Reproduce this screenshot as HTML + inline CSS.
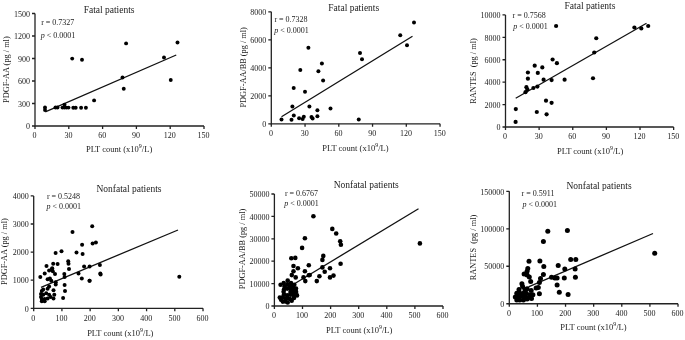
<!DOCTYPE html>
<html><head><meta charset="utf-8"><style>
html,body{margin:0;padding:0;background:#fff;width:685px;height:340px;overflow:hidden}
svg{display:block;filter:grayscale(1) blur(0.3px)}
text{font-family:"Liberation Serif", serif;fill:#222}
</style></head><body>
<svg width="685" height="340" viewBox="0 0 685 340">
<rect width="685" height="340" fill="#fff"/>
<path d="M35 13.5V126H204" fill="none" stroke="#222" stroke-width="1.3"/>
<text x="30" y="129.2" text-anchor="end" font-size="8.0">0</text>
<text x="30" y="106.7" text-anchor="end" font-size="8.0">300</text>
<text x="30" y="84.2" text-anchor="end" font-size="8.0">600</text>
<text x="30" y="61.7" text-anchor="end" font-size="8.0">900</text>
<text x="30" y="39.2" text-anchor="end" font-size="8.0">1200</text>
<text x="30" y="16.7" text-anchor="end" font-size="8.0">1500</text>
<text x="34.6" y="138.3" text-anchor="middle" font-size="8.0">0</text>
<text x="68.4" y="138.3" text-anchor="middle" font-size="8.0">30</text>
<text x="102.2" y="138.3" text-anchor="middle" font-size="8.0">60</text>
<text x="136" y="138.3" text-anchor="middle" font-size="8.0">90</text>
<text x="169.8" y="138.3" text-anchor="middle" font-size="8.0">120</text>
<text x="203.6" y="138.3" text-anchor="middle" font-size="8.0">150</text>
<path d="M32 126H35 M32 103.5H35 M32 81H35 M32 58.5H35 M32 36H35 M32 13.5H35 M35 126V129 M68.8 126V129 M102.6 126V129 M136.4 126V129 M170.2 126V129 M204 126V129" fill="none" stroke="#222" stroke-width="1.3"/>
<text x="109.1" y="13" text-anchor="middle" font-size="9.5">Fatal patients</text>
<text x="41.2" y="25" font-size="8.0">r = 0.7327</text>
<text x="40.7" y="37.8" font-size="8.0"><tspan font-style="italic">p</tspan> &lt; 0.0001</text>
<text transform="translate(9.4 69.65) rotate(-90)" text-anchor="middle" font-size="8.3" xml:space="preserve">PDGF-AA (pg / ml)</text>
<text x="119.1" y="152.4" text-anchor="middle" font-size="8.5">PLT count (x10<tspan font-size="6" dy="-4">9</tspan><tspan dy="4">/L)</tspan></text>
<line x1="45.3" y1="111.8" x2="176.25" y2="55" stroke="#111" stroke-width="1.3"/>
<g fill="#000"><circle cx="72.2" cy="58.6" r="1.95"/><circle cx="82" cy="59.7" r="1.95"/><circle cx="126.1" cy="43.4" r="1.95"/><circle cx="177.5" cy="42.5" r="1.95"/><circle cx="164" cy="57.5" r="1.95"/><circle cx="170.75" cy="80" r="1.95"/><circle cx="122.5" cy="77.5" r="1.95"/><circle cx="123.75" cy="88.75" r="1.95"/><circle cx="94.1" cy="100.4" r="1.95"/><circle cx="45" cy="107.5" r="1.95"/><circle cx="45" cy="110" r="1.95"/><circle cx="55.5" cy="107.5" r="1.95"/><circle cx="57.5" cy="107.5" r="1.95"/><circle cx="62.5" cy="107.6" r="1.95"/><circle cx="64.5" cy="107.6" r="1.95"/><circle cx="66.5" cy="107.6" r="1.95"/><circle cx="68.5" cy="107.6" r="1.95"/><circle cx="64.5" cy="104.6" r="1.95"/><circle cx="73.3" cy="107.8" r="1.95"/><circle cx="75.7" cy="107.8" r="1.95"/><circle cx="81.1" cy="107.8" r="1.95"/><circle cx="85.9" cy="107.8" r="1.95"/></g>
<path d="M271.3 11.8V123.8H440.05" fill="none" stroke="#222" stroke-width="1.3"/>
<text x="266.3" y="127" text-anchor="end" font-size="8.0">0</text>
<text x="266.3" y="99" text-anchor="end" font-size="8.0">2000</text>
<text x="266.3" y="71" text-anchor="end" font-size="8.0">4000</text>
<text x="266.3" y="43" text-anchor="end" font-size="8.0">6000</text>
<text x="266.3" y="15" text-anchor="end" font-size="8.0">8000</text>
<text x="270.9" y="136.1" text-anchor="middle" font-size="8.0">0</text>
<text x="304.65" y="136.1" text-anchor="middle" font-size="8.0">30</text>
<text x="338.4" y="136.1" text-anchor="middle" font-size="8.0">60</text>
<text x="372.15" y="136.1" text-anchor="middle" font-size="8.0">90</text>
<text x="405.9" y="136.1" text-anchor="middle" font-size="8.0">120</text>
<text x="439.65" y="136.1" text-anchor="middle" font-size="8.0">150</text>
<path d="M268.3 123.8H271.3 M268.3 95.8H271.3 M268.3 67.8H271.3 M268.3 39.8H271.3 M268.3 11.8H271.3 M271.3 123.8V126.8 M305.05 123.8V126.8 M338.8 123.8V126.8 M372.55 123.8V126.8 M406.3 123.8V126.8 M440.05 123.8V126.8" fill="none" stroke="#222" stroke-width="1.3"/>
<text x="353.75" y="10.5" text-anchor="middle" font-size="9.5">Fatal patients</text>
<text x="274.4" y="21.5" font-size="8.0">r = 0.7328</text>
<text x="274.2" y="33.4" font-size="8.0"><tspan font-style="italic">p</tspan> &lt; 0.0001</text>
<text transform="translate(246.1 67.35) rotate(-90)" text-anchor="middle" font-size="8.3" xml:space="preserve">PDGF-AA/BB (pg / ml)</text>
<text x="355.45" y="150.5" text-anchor="middle" font-size="8.5">PLT count (x10<tspan font-size="6" dy="-4">9</tspan><tspan dy="4">/L)</tspan></text>
<line x1="281.5" y1="116.8" x2="412.5" y2="36.3" stroke="#111" stroke-width="1.3"/>
<g fill="#000"><circle cx="308.4" cy="47.8" r="2.0"/><circle cx="321.9" cy="63.5" r="2.0"/><circle cx="300.3" cy="69.9" r="2.0"/><circle cx="318.4" cy="71.3" r="2.0"/><circle cx="323.1" cy="80.4" r="2.0"/><circle cx="293.7" cy="88" r="2.0"/><circle cx="414" cy="22.5" r="2.0"/><circle cx="400.25" cy="35.25" r="2.0"/><circle cx="407" cy="45.25" r="2.0"/><circle cx="360" cy="53" r="2.0"/><circle cx="362" cy="59.25" r="2.0"/><circle cx="358.75" cy="119.5" r="2.0"/><circle cx="305" cy="91.7" r="2.0"/><circle cx="292.4" cy="106.5" r="2.0"/><circle cx="309.4" cy="106.4" r="2.0"/><circle cx="330.5" cy="108.5" r="2.0"/><circle cx="317.4" cy="110.3" r="2.0"/><circle cx="293.8" cy="115.4" r="2.0"/><circle cx="317.4" cy="116.2" r="2.0"/><circle cx="281.5" cy="119.5" r="2.0"/><circle cx="291.5" cy="119.7" r="2.0"/><circle cx="299.1" cy="118.2" r="2.0"/><circle cx="302.6" cy="119.1" r="2.0"/><circle cx="303.8" cy="116.8" r="2.0"/><circle cx="311.5" cy="117" r="2.0"/><circle cx="312.6" cy="118.5" r="2.0"/></g>
<path d="M505.5 14.9V127H673.65" fill="none" stroke="#222" stroke-width="1.3"/>
<text x="500.5" y="130.2" text-anchor="end" font-size="8.0">0</text>
<text x="500.5" y="107.78" text-anchor="end" font-size="8.0">2000</text>
<text x="500.5" y="85.36" text-anchor="end" font-size="8.0">4000</text>
<text x="500.5" y="62.94" text-anchor="end" font-size="8.0">6000</text>
<text x="500.5" y="40.52" text-anchor="end" font-size="8.0">8000</text>
<text x="500.5" y="18.1" text-anchor="end" font-size="8.0">10000</text>
<text x="505.1" y="139.3" text-anchor="middle" font-size="8.0">0</text>
<text x="538.73" y="139.3" text-anchor="middle" font-size="8.0">30</text>
<text x="572.36" y="139.3" text-anchor="middle" font-size="8.0">60</text>
<text x="605.99" y="139.3" text-anchor="middle" font-size="8.0">90</text>
<text x="639.62" y="139.3" text-anchor="middle" font-size="8.0">120</text>
<text x="673.25" y="139.3" text-anchor="middle" font-size="8.0">150</text>
<path d="M502.5 127H505.5 M502.5 104.58H505.5 M502.5 82.16H505.5 M502.5 59.74H505.5 M502.5 37.32H505.5 M502.5 14.9H505.5 M505.5 127V130 M539.13 127V130 M572.76 127V130 M606.39 127V130 M640.02 127V130 M673.65 127V130" fill="none" stroke="#222" stroke-width="1.3"/>
<text x="590" y="9.1" text-anchor="middle" font-size="9.5">Fatal patients</text>
<text x="512.5" y="18.4" font-size="8.0">r = 0.7568</text>
<text x="513.3" y="28.9" font-size="8.0"><tspan font-style="italic">p</tspan> &lt; 0.0001</text>
<text transform="translate(476.3 71) rotate(-90)" text-anchor="middle" font-size="8.3" xml:space="preserve">RANTES  (pg / ml)</text>
<text x="590.15" y="153.8" text-anchor="middle" font-size="8.5">PLT count (x10<tspan font-size="6" dy="-4">9</tspan><tspan dy="4">/L)</tspan></text>
<line x1="515.7" y1="98.2" x2="646.5" y2="23.3" stroke="#111" stroke-width="1.3"/>
<g fill="#000"><circle cx="556.1" cy="26" r="2.1"/><circle cx="634.4" cy="27.5" r="2.1"/><circle cx="641.3" cy="28.4" r="2.1"/><circle cx="648.2" cy="26" r="2.1"/><circle cx="596.25" cy="38.25" r="2.1"/><circle cx="594.25" cy="52.5" r="2.1"/><circle cx="593" cy="78.25" r="2.1"/><circle cx="552.6" cy="59.5" r="2.1"/><circle cx="556.9" cy="63.2" r="2.1"/><circle cx="534.7" cy="65.7" r="2.1"/><circle cx="542.3" cy="67.4" r="2.1"/><circle cx="527.9" cy="72.5" r="2.1"/><circle cx="537.8" cy="72.9" r="2.1"/><circle cx="527.9" cy="78.7" r="2.1"/><circle cx="543.6" cy="79.7" r="2.1"/><circle cx="551.6" cy="80.1" r="2.1"/><circle cx="564.6" cy="79.7" r="2.1"/><circle cx="526.4" cy="87.2" r="2.1"/><circle cx="527.4" cy="89.5" r="2.1"/><circle cx="525.5" cy="92.2" r="2.1"/><circle cx="533.4" cy="88" r="2.1"/><circle cx="537.4" cy="86.6" r="2.1"/><circle cx="546" cy="100.7" r="2.1"/><circle cx="551.6" cy="102.8" r="2.1"/><circle cx="515.8" cy="109.1" r="2.1"/><circle cx="536.8" cy="112" r="2.1"/><circle cx="546.6" cy="114.3" r="2.1"/><circle cx="515.6" cy="121.9" r="2.1"/></g>
<path d="M33.7 195.9V308.3H203.02" fill="none" stroke="#222" stroke-width="1.3"/>
<text x="28.7" y="311.5" text-anchor="end" font-size="8.0">0</text>
<text x="28.7" y="283.4" text-anchor="end" font-size="8.0">1000</text>
<text x="28.7" y="255.3" text-anchor="end" font-size="8.0">2000</text>
<text x="28.7" y="227.2" text-anchor="end" font-size="8.0">3000</text>
<text x="28.7" y="199.1" text-anchor="end" font-size="8.0">4000</text>
<text x="33.3" y="320.6" text-anchor="middle" font-size="8.0">0</text>
<text x="61.52" y="320.6" text-anchor="middle" font-size="8.0">100</text>
<text x="89.74" y="320.6" text-anchor="middle" font-size="8.0">200</text>
<text x="117.96" y="320.6" text-anchor="middle" font-size="8.0">300</text>
<text x="146.18" y="320.6" text-anchor="middle" font-size="8.0">400</text>
<text x="174.4" y="320.6" text-anchor="middle" font-size="8.0">500</text>
<text x="202.62" y="320.6" text-anchor="middle" font-size="8.0">600</text>
<path d="M30.7 308.3H33.7 M30.7 280.2H33.7 M30.7 252.1H33.7 M30.7 224H33.7 M30.7 195.9H33.7 M33.7 308.3V311.3 M61.92 308.3V311.3 M90.14 308.3V311.3 M118.36 308.3V311.3 M146.58 308.3V311.3 M174.8 308.3V311.3 M203.02 308.3V311.3" fill="none" stroke="#222" stroke-width="1.3"/>
<text x="129" y="192" text-anchor="middle" font-size="9.5">Nonfatal patients</text>
<text x="46.9" y="198.6" font-size="8.0">r = 0.5248</text>
<text x="46.4" y="208.5" font-size="8.0"><tspan font-style="italic">p</tspan> &lt; 0.0001</text>
<text transform="translate(7.4 251.6) rotate(-90)" text-anchor="middle" font-size="8.3" xml:space="preserve">PDGF-AA (pg / ml)</text>
<text x="120.3" y="335.9" text-anchor="middle" font-size="8.5">PLT count (x10<tspan font-size="6" dy="-4">9</tspan><tspan dy="4">/L)</tspan></text>
<line x1="41" y1="287.3" x2="178" y2="230" stroke="#111" stroke-width="1.3"/>
<g fill="#000"><circle cx="92.2" cy="226.3" r="2.0"/><circle cx="72.5" cy="232.1" r="2.0"/><circle cx="82.1" cy="244.7" r="2.0"/><circle cx="92.6" cy="243.5" r="2.0"/><circle cx="95.9" cy="242.5" r="2.0"/><circle cx="55.6" cy="253.1" r="2.0"/><circle cx="61.5" cy="251.3" r="2.0"/><circle cx="76.5" cy="252.6" r="2.0"/><circle cx="82.6" cy="254.1" r="2.0"/><circle cx="53.2" cy="263.7" r="2.0"/><circle cx="57.6" cy="264.1" r="2.0"/><circle cx="68.2" cy="261.2" r="2.0"/><circle cx="68.5" cy="263.8" r="2.0"/><circle cx="52.2" cy="268.2" r="2.0"/><circle cx="69" cy="269" r="2.0"/><circle cx="84.1" cy="266.5" r="2.0"/><circle cx="89.6" cy="266.5" r="2.0"/><circle cx="99.9" cy="265" r="2.0"/><circle cx="100.3" cy="273.4" r="2.0"/><circle cx="100.6" cy="274.4" r="2.0"/><circle cx="55" cy="274.1" r="2.0"/><circle cx="64.3" cy="274.1" r="2.0"/><circle cx="64.6" cy="277.1" r="2.0"/><circle cx="78.5" cy="273.4" r="2.0"/><circle cx="81.8" cy="278.5" r="2.0"/><circle cx="89.6" cy="280.7" r="2.0"/><circle cx="55.7" cy="282.2" r="2.0"/><circle cx="55.7" cy="284.4" r="2.0"/><circle cx="64.6" cy="284.9" r="2.0"/><circle cx="65" cy="291" r="2.0"/><circle cx="63.1" cy="297.9" r="2.0"/><circle cx="179.3" cy="276.8" r="2.0"/><circle cx="40.3" cy="277" r="2.0"/><circle cx="44.7" cy="273.4" r="2.0"/><circle cx="46.5" cy="266" r="2.0"/><circle cx="49.1" cy="270.4" r="2.0"/><circle cx="52" cy="269" r="2.0"/><circle cx="52.8" cy="271.2" r="2.0"/><circle cx="47.6" cy="279.3" r="2.0"/><circle cx="49.9" cy="278.5" r="2.0"/><circle cx="51.3" cy="280.7" r="2.0"/><circle cx="49.1" cy="286.6" r="2.0"/><circle cx="47.6" cy="288.8" r="2.0"/><circle cx="53.5" cy="290.3" r="2.0"/><circle cx="43.2" cy="289.6" r="2.0"/><circle cx="41.8" cy="291" r="2.0"/><circle cx="41" cy="294" r="2.0"/><circle cx="43.2" cy="294.7" r="2.0"/><circle cx="46.2" cy="293.2" r="2.0"/><circle cx="49.1" cy="294.7" r="2.0"/><circle cx="50.6" cy="296.9" r="2.0"/><circle cx="54.3" cy="294.7" r="2.0"/><circle cx="53.5" cy="298.4" r="2.0"/><circle cx="41.8" cy="299.1" r="2.0"/><circle cx="44.7" cy="299.1" r="2.0"/><circle cx="41.8" cy="301.3" r="2.0"/><circle cx="44.7" cy="301.3" r="2.0"/><circle cx="47.6" cy="298.4" r="2.0"/><circle cx="41" cy="296.9" r="2.0"/><circle cx="89.5" cy="280.75" r="2.0"/></g>
<path d="M274.4 194V306H443" fill="none" stroke="#222" stroke-width="1.3"/>
<text x="269.4" y="309.2" text-anchor="end" font-size="8.0">0</text>
<text x="269.4" y="286.8" text-anchor="end" font-size="8.0">10000</text>
<text x="269.4" y="264.4" text-anchor="end" font-size="8.0">20000</text>
<text x="269.4" y="242" text-anchor="end" font-size="8.0">30000</text>
<text x="269.4" y="219.6" text-anchor="end" font-size="8.0">40000</text>
<text x="269.4" y="197.2" text-anchor="end" font-size="8.0">50000</text>
<text x="274" y="318.3" text-anchor="middle" font-size="8.0">0</text>
<text x="302.1" y="318.3" text-anchor="middle" font-size="8.0">100</text>
<text x="330.2" y="318.3" text-anchor="middle" font-size="8.0">200</text>
<text x="358.3" y="318.3" text-anchor="middle" font-size="8.0">300</text>
<text x="386.4" y="318.3" text-anchor="middle" font-size="8.0">400</text>
<text x="414.5" y="318.3" text-anchor="middle" font-size="8.0">500</text>
<text x="442.6" y="318.3" text-anchor="middle" font-size="8.0">600</text>
<path d="M271.4 306H274.4 M271.4 283.6H274.4 M271.4 261.2H274.4 M271.4 238.8H274.4 M271.4 216.4H274.4 M271.4 194H274.4 M274.4 306V309 M302.5 306V309 M330.6 306V309 M358.7 306V309 M386.8 306V309 M414.9 306V309 M443 306V309" fill="none" stroke="#222" stroke-width="1.3"/>
<text x="366.25" y="187.5" text-anchor="middle" font-size="9.5">Nonfatal patients</text>
<text x="284.9" y="195.8" font-size="8.0">r = 0.6767</text>
<text x="284.3" y="206.1" font-size="8.0"><tspan font-style="italic">p</tspan> &lt; 0.0001</text>
<text transform="translate(245 249) rotate(-90)" text-anchor="middle" font-size="8.3" xml:space="preserve">PDGF-AA/BB (pg / ml)</text>
<text x="359.25" y="333.3" text-anchor="middle" font-size="8.5">PLT count (x10<tspan font-size="6" dy="-4">9</tspan><tspan dy="4">/L)</tspan></text>
<line x1="292" y1="285.2" x2="418.5" y2="208.7" stroke="#111" stroke-width="1.3"/>
<g fill="#000"><circle cx="313.4" cy="216.2" r="2.3"/><circle cx="304.9" cy="238.2" r="2.3"/><circle cx="302.1" cy="247.9" r="2.3"/><circle cx="291.3" cy="258.2" r="2.3"/><circle cx="295.3" cy="257.9" r="2.3"/><circle cx="332.3" cy="228.9" r="2.3"/><circle cx="336.2" cy="233.5" r="2.3"/><circle cx="340.2" cy="241.2" r="2.3"/><circle cx="340.9" cy="244.8" r="2.3"/><circle cx="323.3" cy="255.9" r="2.3"/><circle cx="322.4" cy="259.9" r="2.3"/><circle cx="340.6" cy="263.8" r="2.3"/><circle cx="419.9" cy="243.4" r="2.3"/><circle cx="293.5" cy="266" r="2.3"/><circle cx="297.9" cy="268.2" r="2.3"/><circle cx="308.8" cy="265.2" r="2.3"/><circle cx="293.5" cy="271.2" r="2.3"/><circle cx="291.8" cy="275.1" r="2.3"/><circle cx="295.7" cy="277.4" r="2.3"/><circle cx="304.9" cy="271.2" r="2.3"/><circle cx="308.8" cy="275.3" r="2.3"/><circle cx="309.7" cy="275" r="2.3"/><circle cx="303.5" cy="277.4" r="2.3"/><circle cx="305.3" cy="281.1" r="2.3"/><circle cx="316.8" cy="281.1" r="2.3"/><circle cx="319.4" cy="276.2" r="2.3"/><circle cx="322.4" cy="267.4" r="2.3"/><circle cx="324.7" cy="271.8" r="2.3"/><circle cx="330" cy="268.2" r="2.3"/><circle cx="330" cy="277.4" r="2.3"/><circle cx="333.5" cy="275.6" r="2.3"/><circle cx="287.7" cy="280.6" r="2.3"/><circle cx="283.7" cy="283.1" r="2.3"/><circle cx="280.6" cy="284.8" r="2.3"/><circle cx="284.6" cy="286.6" r="2.3"/><circle cx="287.2" cy="288.6" r="2.3"/><circle cx="290.8" cy="289.2" r="2.3"/><circle cx="293" cy="286.6" r="2.3"/><circle cx="294.3" cy="284.8" r="2.3"/><circle cx="291" cy="283" r="2.3"/><circle cx="283.6" cy="291.7" r="2.3"/><circle cx="284" cy="289.5" r="2.3"/><circle cx="290.5" cy="292" r="2.3"/><circle cx="284" cy="294.5" r="2.3"/><circle cx="287.2" cy="295.2" r="2.3"/><circle cx="290.3" cy="294.8" r="2.3"/><circle cx="296.1" cy="291.9" r="2.3"/><circle cx="297" cy="295.4" r="2.3"/><circle cx="294" cy="298" r="2.3"/><circle cx="291.7" cy="300.7" r="2.3"/><circle cx="287.7" cy="302.5" r="2.3"/><circle cx="289.9" cy="299" r="2.3"/><circle cx="285.5" cy="298.5" r="2.3"/><circle cx="281.1" cy="299.8" r="2.3"/><circle cx="282.8" cy="301.6" r="2.3"/><circle cx="279.8" cy="297.5" r="2.3"/><circle cx="293.5" cy="292.5" r="2.3"/><circle cx="296" cy="288.5" r="2.3"/><circle cx="289.9" cy="286.2" r="2.3"/><circle cx="287.3" cy="284.4" r="2.3"/><circle cx="293" cy="289.4" r="2.3"/><circle cx="293.4" cy="295" r="2.3"/><circle cx="282.8" cy="297.2" r="2.3"/><circle cx="287.2" cy="298.2" r="2.3"/><circle cx="285.5" cy="301.5" r="2.3"/></g>
<path d="M509.3 191.31V303.75H678.02" fill="none" stroke="#222" stroke-width="1.3"/>
<text x="504.3" y="306.95" text-anchor="end" font-size="8.0">0</text>
<text x="504.3" y="269.47" text-anchor="end" font-size="8.0">50000</text>
<text x="504.3" y="231.99" text-anchor="end" font-size="8.0">100000</text>
<text x="504.3" y="194.51" text-anchor="end" font-size="8.0">150000</text>
<text x="508.9" y="316.05" text-anchor="middle" font-size="8.0">0</text>
<text x="537.02" y="316.05" text-anchor="middle" font-size="8.0">100</text>
<text x="565.14" y="316.05" text-anchor="middle" font-size="8.0">200</text>
<text x="593.26" y="316.05" text-anchor="middle" font-size="8.0">300</text>
<text x="621.38" y="316.05" text-anchor="middle" font-size="8.0">400</text>
<text x="649.5" y="316.05" text-anchor="middle" font-size="8.0">500</text>
<text x="677.62" y="316.05" text-anchor="middle" font-size="8.0">600</text>
<path d="M506.3 303.75H509.3 M506.3 266.27H509.3 M506.3 228.79H509.3 M506.3 191.31H509.3 M509.3 303.75V306.75 M537.42 303.75V306.75 M565.54 303.75V306.75 M593.66 303.75V306.75 M621.78 303.75V306.75 M649.9 303.75V306.75 M678.02 303.75V306.75" fill="none" stroke="#222" stroke-width="1.3"/>
<text x="599.1" y="189" text-anchor="middle" font-size="9.5">Nonfatal patients</text>
<text x="521.5" y="195.8" font-size="8.0">r = 0.5911</text>
<text x="522.4" y="207.3" font-size="8.0"><tspan font-style="italic">p</tspan> &lt; 0.0001</text>
<text transform="translate(476 247.5) rotate(-90)" text-anchor="middle" font-size="8.3" xml:space="preserve">RANTES  (pg / ml)</text>
<text x="593.5" y="330.2" text-anchor="middle" font-size="8.5">PLT count (x10<tspan font-size="6" dy="-4">9</tspan><tspan dy="4">/L)</tspan></text>
<line x1="528.5" y1="286.9" x2="653" y2="233.5" stroke="#111" stroke-width="1.3"/>
<g fill="#000"><circle cx="547.8" cy="231.2" r="2.5"/><circle cx="567.4" cy="230.5" r="2.5"/><circle cx="543.4" cy="241.5" r="2.5"/><circle cx="529" cy="261.25" r="2.5"/><circle cx="539.9" cy="261" r="2.5"/><circle cx="543.8" cy="266.5" r="2.5"/><circle cx="558.2" cy="265.4" r="2.5"/><circle cx="564.8" cy="269.1" r="2.5"/><circle cx="570.7" cy="259.6" r="2.5"/><circle cx="575.8" cy="259.6" r="2.5"/><circle cx="575.1" cy="269.1" r="2.5"/><circle cx="575.4" cy="277.3" r="2.5"/><circle cx="543.4" cy="274.6" r="2.5"/><circle cx="540.5" cy="278.6" r="2.5"/><circle cx="539.4" cy="282.4" r="2.5"/><circle cx="551.5" cy="277.3" r="2.5"/><circle cx="554.9" cy="277.9" r="2.5"/><circle cx="557.1" cy="277.9" r="2.5"/><circle cx="564.3" cy="277.9" r="2.5"/><circle cx="557.1" cy="285" r="2.5"/><circle cx="559.3" cy="292.3" r="2.5"/><circle cx="568.1" cy="294.5" r="2.5"/><circle cx="536.1" cy="287.9" r="2.5"/><circle cx="538.3" cy="287.4" r="2.5"/><circle cx="539.4" cy="293.8" r="2.5"/><circle cx="654.7" cy="253.3" r="2.5"/><circle cx="527.8" cy="268.5" r="2.5"/><circle cx="527.1" cy="271.2" r="2.5"/><circle cx="524.1" cy="274.1" r="2.5"/><circle cx="527.1" cy="274.9" r="2.5"/><circle cx="529.3" cy="277.1" r="2.5"/><circle cx="530.7" cy="281.5" r="2.5"/><circle cx="531.2" cy="290.6" r="2.5"/><circle cx="521.9" cy="283.7" r="2.5"/><circle cx="519" cy="289.6" r="2.5"/><circle cx="522.6" cy="286.6" r="2.5"/><circle cx="524.9" cy="289.6" r="2.5"/><circle cx="527.1" cy="288.8" r="2.5"/><circle cx="516.8" cy="293.2" r="2.5"/><circle cx="519.7" cy="292.9" r="2.5"/><circle cx="523.4" cy="293.2" r="2.5"/><circle cx="526.3" cy="293.2" r="2.5"/><circle cx="530" cy="294.7" r="2.5"/><circle cx="532.9" cy="294.7" r="2.5"/><circle cx="515.3" cy="296.9" r="2.5"/><circle cx="518.2" cy="296.9" r="2.5"/><circle cx="521.9" cy="296.2" r="2.5"/><circle cx="525.6" cy="296.9" r="2.5"/><circle cx="528.5" cy="297.6" r="2.5"/><circle cx="531.5" cy="298.4" r="2.5"/><circle cx="516.8" cy="299.9" r="2.5"/><circle cx="519.7" cy="299.9" r="2.5"/><circle cx="523.4" cy="299.9" r="2.5"/><circle cx="527.1" cy="299.1" r="2.5"/></g>
</svg>
</body></html>
